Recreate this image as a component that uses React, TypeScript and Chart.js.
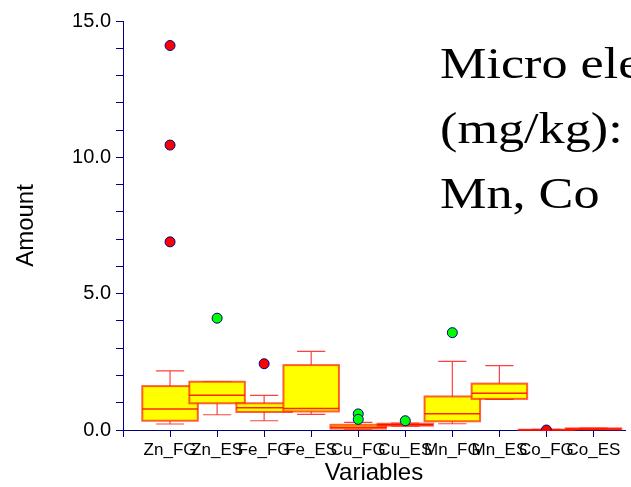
import React, { useEffect, useRef } from "react";
import { Chart, registerables } from "chart.js";

Chart.register(...registerables);

const categories = ["Zn_FG", "Zn_ES", "Fe_FG", "Fe_ES", "Cu_FG", "Cu_ES", "Mn_FG", "Mn_ES", "Co_FG", "Co_ES"];
const whiskerLow = [0.22, 0.56, 0.34, 0.57, 0.01, 0.14, 0.23, 1.12, 0.0, 0.02];
const q1 = [0.34, 0.98, 0.66, 0.68, 0.05, 0.16, 0.32, 1.14, 0.0, 0.02];
const median = [0.77, 1.27, 0.82, 0.79, 0.1, 0.19, 0.6, 1.35, 0.0, 0.04];
const q3 = [1.61, 1.77, 0.98, 2.38, 0.19, 0.23, 1.23, 1.7, 0.01, 0.06];
const whiskerHigh = [2.17, 1.77, 1.27, 2.88, 0.28, 0.25, 2.52, 2.36, 0.02, 0.07];

const redOutlierCat = ["Zn_FG", "Zn_FG", "Zn_FG", "Fe_FG", "Co_FG"];
const redOutlierVal = [14.1, 10.45, 6.9, 2.43, 0.0];
const greenOutlierCat = ["Zn_ES", "Cu_FG", "Cu_FG", "Cu_ES", "Mn_FG"];
const greenOutlierVal = [4.1, 0.59, 0.39, 0.34, 3.57];

const yTicks = [0, 5, 10, 15];
const titleLines = ["Micro elements", "(mg/kg): Zn, Fe, Cu,", "Mn, Co"];

const NAVY = "#000080";

const boxPlugin = {
  id: "boxes",
  beforeDatasetsDraw(chart: any) {
    const { ctx } = chart;
    const xs = chart.scales.x;
    const ys = chart.scales.y;
    const halfBox = 0.59;
    const halfCap = 0.3;
    ctx.save();
    categories.forEach((_c, i) => {
      const cx = xs.getPixelForValue(i);
      const l = xs.getPixelForValue(i - halfBox);
      const r = xs.getPixelForValue(i + halfBox);
      const cl = xs.getPixelForValue(i - halfCap);
      const cr = xs.getPixelForValue(i + halfCap);
      const yLo = ys.getPixelForValue(whiskerLow[i]);
      const yQ1 = ys.getPixelForValue(q1[i]);
      const yMed = ys.getPixelForValue(median[i]);
      const yQ3 = ys.getPixelForValue(q3[i]);
      const yHi = ys.getPixelForValue(whiskerHigh[i]);
      ctx.strokeStyle = "rgba(255,0,0,0.75)";
      ctx.lineWidth = 1.2;
      ctx.beginPath();
      ctx.moveTo(cx, yQ3);
      ctx.lineTo(cx, yHi);
      ctx.moveTo(cl, yHi);
      ctx.lineTo(cr, yHi);
      ctx.moveTo(cx, yQ1);
      ctx.lineTo(cx, yLo);
      ctx.moveTo(cl, yLo);
      ctx.lineTo(cr, yLo);
      ctx.stroke();
      ctx.fillStyle = "#ffff00";
      ctx.fillRect(l, yQ3, r - l, yQ1 - yQ3);
      ctx.strokeStyle = "rgba(255,30,0,0.7)";
      ctx.lineWidth = 2;
      ctx.strokeRect(l, yQ3, r - l, yQ1 - yQ3);
      ctx.strokeStyle = "rgba(255,0,0,0.85)";
      ctx.lineWidth = 1.5;
      ctx.beginPath();
      ctx.moveTo(l, yMed);
      ctx.lineTo(r, yMed);
      ctx.stroke();
    });
    ctx.restore();
  },
};

const titlePlugin = {
  id: "bigTitle",
  afterDraw(chart: any) {
    const { ctx } = chart;
    ctx.save();
    ctx.fillStyle = "#000";
    ctx.font = '45px "Liberation Serif", "Times New Roman", serif';
    ctx.textAlign = "left";
    ctx.textBaseline = "alphabetic";
    const baselines = [78, 143, 208];
    ctx.translate(440, 0);
    ctx.scale(1.16, 1);
    titleLines.forEach((t, i) => ctx.fillText(t, 0, baselines[i]));
    ctx.restore();
  },
};

export default function App() {
  const ref = useRef<HTMLCanvasElement | null>(null);
  useEffect(() => {
    if (!ref.current) return;
    Chart.defaults.font.family = '"Liberation Sans", Arial, sans-serif';
    Chart.defaults.color = "#000";
    const chart = new Chart(ref.current, {
      type: "scatter",
      data: {
        datasets: [
          {
            label: "red",
            data: redOutlierCat.map((c, i) => ({ x: categories.indexOf(c), y: redOutlierVal[i] })),
            backgroundColor: "#ff0000",
            borderColor: NAVY,
            borderWidth: 1,
            pointRadius: 5,
          },
          {
            label: "green",
            data: greenOutlierCat.map((c, i) => ({ x: categories.indexOf(c), y: greenOutlierVal[i] })),
            backgroundColor: "#00ff00",
            borderColor: NAVY,
            borderWidth: 1,
            pointRadius: 5,
          },
        ],
      },
      options: {
        responsive: false,
        animation: false,
        layout: { padding: { top: 21, right: 0, left: 0, bottom: 0 } },
        plugins: { legend: { display: false }, tooltip: { enabled: false }, title: { display: false } },
        scales: {
          x: {
            type: "linear",
            min: -1,
            max: 9.67,
            afterBuildTicks: (scale: any) => {
              scale.ticks = [-1, ...categories.map((_c, i) => i)].map((v) => ({ value: v }));
            },
            afterFit: (scale: any) => {
              scale.height = 57;
            },
            ticks: {
              autoSkip: false,
              maxRotation: 0,
              minRotation: 0,
              padding: 3,
              font: { size: 17 },
              callback: (v: any) => categories[v] ?? "",
            },
            grid: { display: true, drawOnChartArea: false, drawTicks: true, tickLength: 7, color: NAVY },
            border: { display: true, color: NAVY, width: 1 },
            title: {
              display: true,
              text: "Variables",
              font: { size: 24, lineHeight: 1.1 },
              padding: { top: 0, bottom: 0 },
            },
          },
          y: {
            type: "linear",
            min: 0,
            max: 15,
            afterFit: (scale: any) => {
              scale.width = 123;
            },
            ticks: {
              stepSize: 1,
              autoSkip: false,
              padding: 5,
              font: { size: 20 },
              callback: (v: any) => (yTicks.includes(v) ? Number(v).toFixed(1) : ""),
            },
            grid: { display: true, drawOnChartArea: false, drawTicks: true, tickLength: 7, color: NAVY },
            border: { display: true, color: NAVY, width: 1 },
            title: { display: true, text: "Amount", font: { size: 24 }, padding: { top: 12, bottom: 0 } },
          },
        },
      } as any,
      plugins: [boxPlugin, titlePlugin],
    });
    return () => chart.destroy();
  }, []);
  return (
    <div style={{ position: "absolute", left: 0, top: 0, width: 631, height: 487, background: "#fff" }}>
      <canvas ref={ref} width={631} height={487} style={{ display: "block" }} />
    </div>
  );
}
